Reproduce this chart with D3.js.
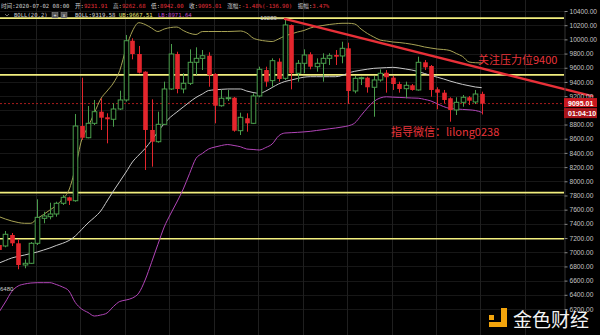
<!DOCTYPE html>
<html>
<head>
<meta charset="utf-8">
<script src="https://cdn.jsdelivr.net/npm/d3@7"></script>
<style>
  html, body { margin: 0; padding: 0; background: #000; }
  svg { display: block; }
</style>
</head>
<body>
<svg width="600" height="335"></svg>
<script>
// candles, oldest first (last one is 2020-07-02 08:00)
var opens = [7102,7088,7243,7126,6820,6844,7126,7478,7501,7539,
  7690,7774,7726,8779,8614,8817,8981,8902,8874,9019,
  9146,9981,9794,9545,8723,8558,8803,9301,9794,9301,
  9381,9677,9733,9770,9512,9065,9164,9178,8713,8888,
  8817,9202,9568,9418,9686,9451,10203,9522,9663,9790,
  9615,9663,9733,9780,9766,9874,9273,9451,9460,9325,
  9428,9530,9460,9371,9305,9353,9287,9677,9625,9296,
  9249,9170,9005,9113,9184,9118,9231.91];
var highs = [7130,7299,7271,7182,6900,7144,7746,7571,7698,7712,
  7807,7783,8948,9460,9061,9146,9170,8958,9099,9277,
  10062,10015,9907,9550,9155,8981,9404,9935,9826,9522,
  9860,9888,9850,9818,9522,9287,9287,9188,8967,8958,
  9240,9615,9615,9733,9733,10289,10210,9709,9860,9818,
  9733,9804,9804,9850,9967,9953,9484,9474,9474,9484,
  9578,9568,9484,9404,9404,9371,9756,9709,9639,9325,
  9287,9184,9184,9216,9202,9287,9262.68];
var lows = [7003,7070,7088,6760,6774,6834,7102,7408,7464,7501,
  7666,7666,7712,8582,8606,8793,8723,8535,8769,9005,
  9122,9719,9520,8159,8206,8544,8793,9287,9240,9240,
  9357,9498,9568,9333,8817,9051,9132,8699,8652,8699,
  8807,9184,9333,9333,9404,9428,9296,9404,9522,9578,
  9545,9404,9639,9639,9663,9089,9240,9357,9249,8910,
  9404,9249,9287,9249,9170,9277,9277,9568,9192,9015,
  9099,8840,8934,9051,9075,9089,8942];
var closes = [7032,7253,7126,6820,6844,7126,7492,7511,7539,7690,
  7774,7726,8779,8614,8817,8981,8896,8874,9019,9146,
  9981,9794,9530,8723,8558,8803,9301,9794,9301,9381,
  9677,9733,9770,9498,9065,9170,9178,8713,8902,8817,
  9202,9578,9404,9700,9442,10203,9522,9663,9780,9615,
  9663,9733,9770,9756,9874,9273,9451,9460,9325,9428,
  9522,9466,9371,9301,9353,9287,9677,9606,9287,9249,
  9146,9005,9113,9184,9136,9230,9095.01];

// BOLL(20,2)
var bollUp = [7501,7468,7440,7419,7408,7408,7475,7532,7595,7659,
  7750,7877,8187,8582,8765,8962,9160,9272,9385,9561,
  9878,10118,10235,10210,10160,10111,10146,10167,10174,10125,
  10086,10069,10110,10111,10111,10111,10111,10114,10118,10090,
  10019,9991,9977,9970,10005,10048,10076,10104,10125,10160,
  10182,10196,10210,10220,10227,10227,10217,10146,10083,10034,
  9991,9977,9963,9956,9945,9931,9914,9893,9878,9864,
  9857,9843,9801,9759,9681,9671,9667.51];
var bollMid = [6848,6884,6919,6941,6961,6982,7003,7031,7060,7095,
  7126,7165,7229,7320,7412,7490,7581,7722,7863,7997,
  8131,8272,8370,8462,8575,8695,8814,8906,8976,9047,
  9117,9181,9230,9279,9289,9296,9301,9301,9301,9272,
  9251,9240,9272,9322,9371,9406,9427,9449,9467,9474,
  9474,9474,9474,9474,9491,9526,9550,9566,9580,9592,
  9597,9602,9606,9597,9583,9568,9547,9519,9491,9467,
  9442,9413,9388,9365,9347,9329,9319.58];
var bollLow = [6158,6299,6447,6524,6552,6566,6571,6571,6571,6545,
  6510,6454,6292,6200,6151,6101,6115,6144,6235,6306,
  6327,6355,6425,6609,6855,7109,7356,7539,7708,7891,
  8110,8321,8392,8455,8483,8504,8518,8504,8487,8455,
  8448,8441,8476,8525,8638,8680,8685,8690,8696,8704,
  8716,8727,8740,8751,8765,8782,8821,8927,9033,9124,
  9174,9191,9186,9182,9178,9174,9171,9154,9132,9092,
  9053,9026,9019,9013,9007,8998,8971.64];

var yTicks = [10400,10200,10000,9800,9600,9400,9200,9000,8800,8600,8400,8200,
  8000,7800,7600,7400,7200,7000,6800,6600,6400,6200];
var levels = [10300, 9500, 7840, 7190];          // yellow horizontal lines
var trendIdx = [45, 93.4], trendVal = [10289, 9200];
var lastPrice = 9095.01, countdown = "01:04:10";
var maxHigh = 10289, minMark = 6480;

var headLabels = ["时间:", "开:", "高:", "低:", "收:", "涨幅:", "振幅:"];
var headValues = ["2020-07-02 08:00", "9231.91", "9262.68", "8942.00", "9095.01", "-1.48%(-136.90)", "3.47%"];

var svg = d3.select("svg");
var n = opens.length;
var axisX = 564;

var x = d3.scaleLinear().domain([0, n - 1]).range([-0.9, 481.7]);
var y = d3.scaleLinear().domain([6200, 10400]).range([309, 11]);

svg.append("rect").attr("width", 600).attr("height", 335).attr("fill", "#000");

svg.append("clipPath").attr("id", "plot")
   .append("rect").attr("x", 0).attr("y", 0).attr("width", axisX).attr("height", 335);

var plot = svg.append("g").attr("clip-path", "url(#plot)");

// grid
plot.selectAll(".hg").data(yTicks).enter().append("line")
    .attr("x1", 0).attr("x2", axisX)
    .attr("y1", function(d) { return Math.round(y(d)) + 0.5; })
    .attr("y2", function(d) { return Math.round(y(d)) + 0.5; })
    .attr("stroke", "#171717");
plot.selectAll(".vg").data(d3.range(12)).enter().append("line")
    .attr("x1", function(k) { return Math.round(x(5.8 + 7 * k)) + 0.5; })
    .attr("x2", function(k) { return Math.round(x(5.8 + 7 * k)) + 0.5; })
    .attr("y1", 0).attr("y2", 335)
    .attr("stroke", "#1f1f1f");

// support / resistance levels
plot.selectAll(".lvl").data(levels).enter().append("line")
    .attr("x1", 0).attr("x2", axisX)
    .attr("y1", function(d) { return y(d); })
    .attr("y2", function(d) { return y(d); })
    .attr("stroke", "#f2ee7e").attr("stroke-width", 1.6);

// last price dotted line
plot.append("line")
    .attr("x1", 0).attr("x2", axisX)
    .attr("y1", y(lastPrice)).attr("y2", y(lastPrice))
    .attr("stroke", "#a81c1c").attr("stroke-dasharray", "2,2");

// bollinger bands
var idx = d3.range(n);
function band(arr, color) {
    plot.append("path")
        .datum(idx)
        .attr("fill", "none")
        .attr("stroke", color)
        .attr("stroke-width", 1)
        .attr("d", d3.line()
            .x(function(i) { return x(i); })
            .y(function(i) { return y(arr[i]); })
            .curve(d3.curveMonotoneX));
}
band(bollUp, "#a9a455");
band(bollMid, "#c9c9c9");
band(bollLow, "#b245b8");

// candles
var up = "#4a9e4c", down = "#e4262d";
var bw = 4.6;
var c = plot.selectAll(".c").data(idx).enter().append("g");
c.append("line")
    .attr("x1", function(i) { return Math.round(x(i)) + 0.5; })
    .attr("x2", function(i) { return Math.round(x(i)) + 0.5; })
    .attr("y1", function(i) { return y(highs[i]); })
    .attr("y2", function(i) { return y(lows[i]); })
    .attr("stroke", function(i) { return closes[i] >= opens[i] ? up : down; });
c.append("rect")
    .attr("x", function(i) { return Math.round(x(i)) + 0.5 - bw / 2; })
    .attr("y", function(i) { return y(Math.max(opens[i], closes[i])); })
    .attr("width", bw)
    .attr("height", function(i) { return Math.max(1, Math.abs(y(opens[i]) - y(closes[i]))); })
    .attr("fill", function(i) { return closes[i] >= opens[i] ? "#000" : down; })
    .attr("stroke", function(i) { return closes[i] >= opens[i] ? up : "none"; })
    .attr("stroke-width", 1);

// trend line
svg.append("line")
    .attr("x1", x(trendIdx[0])).attr("y1", y(trendVal[0]))
    .attr("x2", x(trendIdx[1])).attr("y2", y(trendVal[1]))
    .attr("stroke", "#e83038").attr("stroke-width", 2.4)
    .attr("stroke-linecap", "round");

// high / low markers
svg.append("line")
    .attr("x1", x(45) - 16).attr("x2", x(45) - 2)
    .attr("y1", y(maxHigh)).attr("y2", y(maxHigh))
    .attr("stroke", "#aaa").attr("stroke-width", 0.6);
svg.append("text")
    .attr("x", x(45) - 8).attr("y", y(maxHigh) + 1)
    .attr("text-anchor", "end")
    .attr("font-family", "Liberation Sans, Arial, sans-serif")
    .attr("font-size", "6px").attr("fill", "#ccc")
    .text(maxHigh);
svg.append("text")
    .attr("x", 0).attr("y", y(minMark) + 2)
    .attr("font-family", "Liberation Sans, Arial, sans-serif")
    .attr("font-size", "6px").attr("fill", "#ccc")
    .text(minMark);

// right axis
var yAxis = svg.append("g")
    .attr("transform", "translate(" + (axisX + 0.5) + ",0)")
    .call(d3.axisRight(y).tickValues(yTicks).tickSize(3).tickPadding(2).tickFormat(d3.format(".2f")));
yAxis.select(".domain").attr("stroke", "#333");
yAxis.selectAll(".tick line").attr("stroke", "#888");
yAxis.selectAll("text")
    .attr("fill", "#c4c4c4")
    .attr("font-family", "Liberation Sans, Arial, sans-serif")
    .attr("font-size", "6.6px");
// labels hidden under the price tag and the logo, as in the original
yAxis.selectAll(".tick").filter(function(d) { return d == 9000; }).remove();

// price tag
var ty = y(lastPrice);
svg.append("rect").attr("x", axisX).attr("y", ty - 5.5).attr("width", 33).attr("height", 9)
    .attr("fill", "#c8171e");
svg.append("rect").attr("x", axisX).attr("y", ty + 4.5).attr("width", 33).attr("height", 10)
    .attr("fill", "#a8141a");
svg.append("text").attr("x", axisX + 4).attr("y", ty + 2.3)
    .attr("font-family", "Liberation Sans, Arial, sans-serif").attr("font-weight", "bold")
    .attr("font-size", "7px").attr("fill", "#fff").text(d3.format(".2f")(lastPrice));
svg.append("text").attr("x", axisX + 4).attr("y", ty + 12.3)
    .attr("font-family", "Liberation Sans, Arial, sans-serif").attr("font-weight", "bold")
    .attr("font-size", "7px").attr("fill", "#fff").text(countdown);

// annotations
svg.append("text").attr("x", 478).attr("y", 63.5)
    .attr("font-family", "Noto Sans CJK SC, sans-serif")
    .attr("font-size", "11px").attr("fill", "#e8343a")
    .text("关注压力位9400");
svg.append("text").attr("x", 391).attr("y", 136)
    .attr("font-family", "Noto Sans CJK SC, sans-serif")
    .attr("font-size", "11px").attr("fill", "#e8343a")
    .text("指导微信：lilong0238");

// header line 1, fields flow left to right
var head = svg.append("g")
    .attr("font-family", "DejaVu Sans Mono, Noto Sans CJK SC, monospace")
    .attr("font-size", "5.6px");
var cx = 1;
headLabels.forEach(function(lab, k) {
    var t = head.append("text").attr("x", cx).attr("y", 8.3);
    t.append("tspan").attr("fill", "#cfcfcf").text(lab);
    t.append("tspan").attr("fill", k == 0 ? "#cfcfcf" : "#e8303a").text(headValues[k]);
    cx += t.node().getComputedTextLength() + 5.5;
});

// header line 2
var h2 = svg.append("g")
    .attr("font-family", "DejaVu Sans Mono, monospace")
    .attr("font-size", "5.6px");
h2.append("path").attr("d", "M5,14 L7,16 L9,14").attr("fill", "none").attr("stroke", "#999").attr("stroke-width", 0.7);
h2.append("text").attr("x", 14).attr("y", 17).attr("fill", "#cfcfcf").text("BOLL(20,2)");
[52, 61].forEach(function(bx, k) {
    h2.append("rect").attr("x", bx).attr("y", 12.5).attr("width", 6).attr("height", 5.5)
      .attr("fill", "#555").attr("stroke", "#999").attr("stroke-width", 0.5);
    h2.append("text").attr("x", bx + 3).attr("y", 17).attr("text-anchor", "middle")
      .attr("fill", "#eee").attr("font-size", "5px").text(k == 0 ? "+" : "x");
});
h2.append("text").attr("x", 75).attr("y", 17).attr("fill", "#d8d8d8").text("BOLL:" + bollMid[n - 1].toFixed(2));
h2.append("text").attr("x", 119).attr("y", 17).attr("fill", "#e6e070").text("UB:" + bollUp[n - 1].toFixed(2));
h2.append("text").attr("x", 158).attr("y", 17).attr("fill", "#c04ac8").text("LB:" + bollLow[n - 1].toFixed(2));

// watermark logo
var logo = svg.append("g");
logo.append("rect").attr("x", 489).attr("y", 315).attr("width", 5).attr("height", 5).attr("fill", "#f2a40c");
logo.append("path").attr("d", "M501,308 L507,308 L507,327 L489,327 L489,322 L501,322 Z").attr("fill", "#f2a40c");
logo.append("text").attr("x", 513).attr("y", 326.5)
    .attr("font-family", "Noto Sans CJK SC, sans-serif")
    .attr("font-size", "19px").attr("fill", "#f4f4f4")
    .text("金色财经");
</script>
</body>
</html>
